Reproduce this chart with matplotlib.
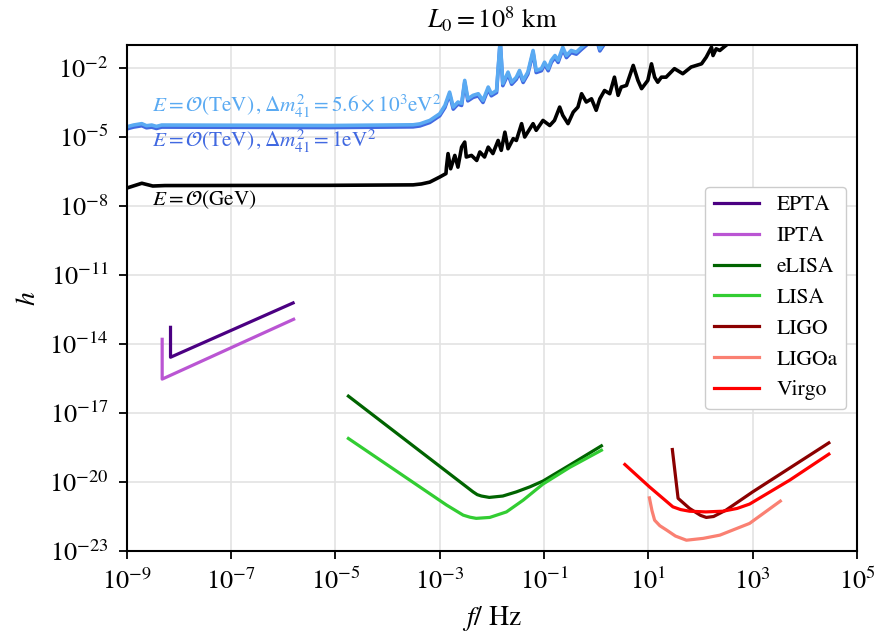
import matplotlib.pyplot as plt
import numpy as np

plt.rcParams['font.family'] = 'STIXGeneral'
plt.rcParams['mathtext.fontset'] = 'stix'

# all curves stored as log10(f / Hz) and log10(h)

# pulsar timing arrays
epta_lf = [-8.16, -8.16, -5.81]
epta_lh = [-13.28, -14.58, -12.22]
ipta_lf = [-8.32, -8.32, -5.80]
ipta_lh = [-13.80, -15.53, -12.93]

# space interferometers
elisa_lf = [-4.75, -2.36, -2.28, -2.20, -2.05, -1.79, -1.53, -1.27, -1.02, -0.51, 0.10]
elisa_lh = [-16.27, -20.43, -20.55, -20.61, -20.67, -20.61, -20.43, -20.21, -19.96, -19.27, -18.43]
lisa_lf = [-4.75, -2.87, -2.55, -2.42, -2.30, -2.04, -1.72, -1.40, -1.02, -0.51, 0.10]
lisa_lh = [-18.11, -21.00, -21.44, -21.53, -21.58, -21.54, -21.30, -20.79, -20.09, -19.37, -18.62]

# ground interferometers
ligo_lf = [1.46, 1.57, 1.79, 2.00, 2.11, 2.25, 2.49, 3.00, 4.46]
ligo_lh = [-18.59, -20.71, -21.15, -21.45, -21.54, -21.50, -21.22, -20.43, -18.30]
ligoa_lf = [1.02, 1.07, 1.12, 1.22, 1.35, 1.52, 1.73, 2.05, 2.37, 2.94, 3.53]
ligoa_lh = [-20.69, -21.25, -21.66, -21.90, -22.09, -22.35, -22.53, -22.45, -22.31, -21.80, -20.83]
virgo_lf = [0.55, 1.02, 1.47, 1.62, 1.79, 2.10, 2.43, 2.70, 2.94, 3.71, 4.46]
virgo_lh = [-19.24, -20.21, -21.08, -21.20, -21.27, -21.30, -21.27, -21.15, -20.96, -19.92, -18.79]

# neutrino oscillation sensitivity, E ~ GeV
gev_lf = [-9.00, -8.71, -8.50, -8.27, -5.11, -3.51, -3.35, -3.19, -3.00, -2.88, -2.87,
          -2.84, -2.79, -2.71, -2.65, -2.58, -2.52, -2.49, -2.39, -2.29, -2.23,
          -2.14, -2.07, -1.98, -1.88, -1.82, -1.75, -1.69, -1.59, -1.53, -1.43,
          -1.37, -1.29, -1.21, -1.15, -1.02, -0.89, -0.80, -0.70, -0.64, -0.54,
          -0.44, -0.35, -0.28, -0.19, -0.09, 0.00, 0.07, 0.16, 0.26, 0.35,
          0.42, 0.48, 0.58, 0.71, 0.80, 0.87, 0.99, 1.06, 1.12, 1.18,
          1.25, 1.34, 1.50, 1.66, 1.82, 2.02, 2.11, 2.21, 2.24, 2.30,
          2.37, 2.46, 2.56]
gev_lh = [-7.23, -7.02, -7.14, -7.12, -7.11, -7.09, -7.05, -6.97, -6.75, -6.60, -6.32,
          -5.73, -6.39, -5.81, -6.32, -5.45, -5.23, -5.88, -5.81, -6.03, -5.66,
          -5.88, -5.45, -5.73, -5.16, -5.59, -4.80, -5.52, -5.08, -5.16, -4.43,
          -5.01, -4.72, -4.43, -4.72, -4.29, -4.51, -4.29, -3.71, -4.07, -4.43,
          -3.93, -3.71, -3.13, -3.49, -3.35, -3.85, -3.35, -2.99, -3.13, -2.41,
          -3.20, -2.84, -2.77, -1.90, -2.55, -2.91, -2.55, -1.83, -2.41, -2.63,
          -2.41, -2.41, -2.04, -2.26, -1.97, -1.83, -1.54, -1.11, -1.47, -1.18,
          -1.25, -1.08, -0.90]

# E ~ TeV, both sterile mass splittings share the frequency grid
tev_lf = [-8.97, -8.87, -8.71, -8.62, -8.52, -8.43, -8.33, -5.11, -3.51, -3.38,
          -3.19, -3.00, -2.90, -2.81, -2.74, -2.65, -2.58, -2.52, -2.46, -2.36,
          -2.26, -2.17, -2.07, -2.01, -1.91, -1.84, -1.79, -1.69, -1.62, -1.53,
          -1.47, -1.40, -1.31, -1.21, -1.15, -1.05, -0.99, -0.92, -0.86, -0.79,
          -0.73, -0.64, -0.57, -0.48, -0.38, -0.28, -0.12, 0.03, 0.07, 0.18]
tev_hi_lh = [-4.55, -4.49, -4.43, -4.52, -4.49, -4.55, -4.49, -4.51, -4.48, -4.44,
             -4.29, -4.00, -3.64, -3.06, -3.71, -3.49, -3.55, -2.55, -3.35, -3.20,
             -3.13, -3.42, -2.84, -3.13, -2.99, -0.80, -2.69, -2.19, -2.63, -2.41,
             -2.12, -2.55, -2.19, -1.25, -2.12, -2.04, -1.76, -2.04, -1.68, -1.47,
             -1.68, -1.11, -1.47, -1.25, -1.32, -1.11, -0.80, -0.85, -1.18, -0.80]
tev_lo_lh = [-4.64, -4.58, -4.52, -4.61, -4.58, -4.64, -4.58, -4.60, -4.57, -4.53,
             -4.38, -4.09, -3.73, -3.15, -3.80, -3.58, -3.64, -2.64, -3.44, -3.29,
             -3.22, -3.51, -2.93, -3.22, -3.08, -0.85, -2.78, -2.28, -2.72, -2.50,
             -2.21, -2.64, -2.28, -1.34, -2.21, -2.13, -1.85, -2.13, -1.77, -1.56,
             -1.77, -1.20, -1.56, -1.34, -1.41, -1.20, -0.89, -0.94, -1.27, -0.89]

detectors = [
    ('EPTA', epta_lf, epta_lh, '#4B0082'),
    ('IPTA', ipta_lf, ipta_lh, '#BA55D3'),
    ('eLISA', elisa_lf, elisa_lh, '#006400'),
    ('LISA', lisa_lf, lisa_lh, '#32CD32'),
    ('LIGO', ligo_lf, ligo_lh, '#8B0000'),
    ('LIGOa', ligoa_lf, ligoa_lh, '#FA8072'),
    ('Virgo', virgo_lf, virgo_lh, '#FF0000'),
]

light_blue = '#5AAAF2'
royal_blue = '#4169E1'

fig = plt.figure(figsize=(8.78, 6.36), dpi=100)
ax = fig.add_axes([0.1443, 0.1336, 0.8318, 0.7961])

ax.plot(10.0**np.array(gev_lf), 10.0**np.array(gev_lh), color='black', lw=2.6)
ax.plot(10.0**np.array(tev_lf), 10.0**np.array(tev_lo_lh), color=royal_blue, lw=2.6)
ax.plot(10.0**np.array(tev_lf), 10.0**np.array(tev_hi_lh), color=light_blue, lw=2.6)

for name, lf, lh, col in detectors:
    ax.plot(10.0**np.array(lf), 10.0**np.array(lh), color=col, lw=2.3, label=name)

ax.text(10**-8.52, 10**-3.68,
        r'$E=\mathcal{O}(\mathrm{TeV})\,,\Delta m^2_{41}=5.6\times10^3\mathrm{eV}^2$',
        color=light_blue, fontsize=15.3, va='center')
ax.text(10**-8.52, 10**-5.18,
        r'$E=\mathcal{O}(\mathrm{TeV})\,,\Delta m^2_{41}=1\mathrm{eV}^2$',
        color=royal_blue, fontsize=15.3, va='center')
ax.text(10**-8.52, 10**-7.72, r'$E=\mathcal{O}(\mathrm{GeV})$',
        color='black', fontsize=15.3, va='center')

ax.set_xscale('log')
ax.set_yscale('log')
ax.set_xlim(1e-9, 1e5)
ax.set_ylim(1e-23, 1e-1)
ax.set_xticks([10.0**k for k in range(-9, 6, 2)])
ax.set_yticks([10.0**k for k in range(-23, -1, 3)])
ax.minorticks_off()
ax.grid(True, color='#e3e3e3', lw=1.2)
ax.set_axisbelow(True)
ax.tick_params(labelsize=19, length=6, width=1.3, pad=7)
for s in ax.spines.values():
    s.set_linewidth(1.5)

ax.set_xlabel(r'$f/$ Hz', fontsize=20, labelpad=6)
ax.set_ylabel(r'$h$', fontsize=20, labelpad=6)
ax.set_title(r'$L_0=10^8$ km', fontsize=19, pad=12)

ax.legend(loc='center right', fontsize=15.5, handlelength=2.1, labelspacing=0.5,
          framealpha=1)

fig.savefig('out.png', dpi=100)
